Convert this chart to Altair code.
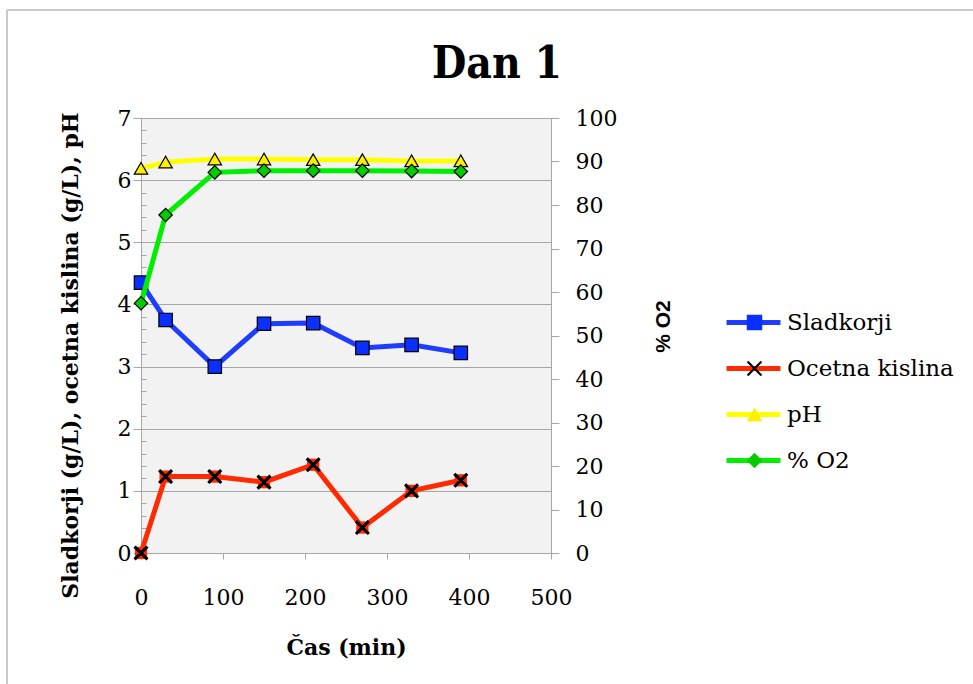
import altair as alt
import pandas as pd

# ---- data ----
cas = [0, 30, 90, 150, 210, 270, 330, 390]
sladkorji = [4.35, 3.75, 3.00, 3.69, 3.70, 3.30, 3.35, 3.22]
ocetna = [0.00, 1.23, 1.23, 1.14, 1.42, 0.41, 1.00, 1.17]
ph = [6.19, 6.29, 6.34, 6.34, 6.33, 6.33, 6.31, 6.31]
o2 = [57.4, 77.7, 87.5, 87.9, 87.9, 87.9, 87.8, 87.7]

serije = ["Sladkorji", "Ocetna kislina", "pH", "% O2"]
x_ticks = [0, 100, 200, 300, 400, 500]
y_left_ticks = [i / 5 for i in range(36)]
y_right_ticks = [0, 10, 20, 30, 40, 50, 60, 70, 80, 90, 100]

# ---- styles ----
barve_crt = ["#1f3dff", "#ff2a00", "#ffff00", "#00ee00"]
barve_tock = ["#0a2fff", "#000000", "#ffee00", "#00cc00"]
X_PATH = ("M-1,-0.8L-0.8,-1L1,0.8L0.8,1Z"
          "M1,-0.8L-0.8,1L-1,0.8L0.8,-1Z")
oblike = ["square", X_PATH, "triangle-up", "diamond"]
SERIF = "DejaVu Serif"
GRAY = "#a6a6a6"

rows = []
for name, vals, side in [("Sladkorji", sladkorji, "L"), ("Ocetna kislina", ocetna, "L"),
                         ("pH", ph, "L"), ("% O2", o2, "D")]:
    for t, v in zip(cas, vals):
        rows.append({"cas": t, "vrednost": v, "serija": name, "oznaka": name, "os": side})
df = pd.DataFrame(rows)
baza = alt.Chart(df)

x_enc = alt.X("cas:Q", scale=alt.Scale(domain=[0, 500], nice=False),
              axis=alt.Axis(values=x_ticks, grid=False, domainColor=GRAY, tickColor=GRAY,
                            tickSize=6, labelFont=SERIF, labelFontSize=22, labelColor="black",
                            labelPadding=28, labelFlush=False, title="Čas (min)",
                            titleFont=SERIF, titleFontWeight="bold", titleFontSize=22,
                            titleColor="black", titleY=94, titleBaseline="middle"))

major_test = "abs(datum.value - round(datum.value)) < 0.001"
y_left = alt.Y("vrednost:Q", scale=alt.Scale(domain=[0, 7], nice=False),
               axis=alt.Axis(values=y_left_ticks, offset=-5, domain=False, labelFlush=False,
                             labelExpr=f"{major_test} ? format(datum.value, 'd') : ''",
                             grid=True, gridColor=GRAY, gridWidth=1,
                             gridOpacity={"condition": {"test": major_test, "value": 1}, "value": 0},
                             tickColor=GRAY,
                             tickSize={"condition": {"test": major_test, "value": 13}, "value": 5},
                             labelFont=SERIF, labelFontSize=22, labelColor="black", labelPadding=2,
                             title="Sladkorji (g/L), ocetna kislina (g/L), pH",
                             titleFont=SERIF, titleFontWeight="bold", titleFontSize=22,
                             titleColor="black", titleX=-76, titleY=237,
                             titleBaseline="middle", titleAngle=270))

y_right = alt.Y("vrednost:Q", scale=alt.Scale(domain=[0, 100], nice=False),
                axis=alt.Axis(orient="right", values=y_right_ticks, grid=False, labelFlush=False,
                              domainColor=GRAY, tickColor=GRAY, tickSize=8,
                              labelFont=SERIF, labelFontSize=22, labelColor="black",
                              labelPadding=16, title="% O2", titleFont="Liberation Sans",
                              titleFontWeight="bold", titleFontSize=21, titleColor="black",
                              titleX=112, titleY=208, titleBaseline="middle", titleAngle=270))

# line legend (stroke channel) - line segments with labels
stroke_enc = alt.Stroke("oznaka:N", sort=serije, scale=alt.Scale(range=barve_crt),
                        legend=alt.Legend(orient="none", legendX=601, legendY=193, title=None,
                                          symbolType="M-4,0H4", symbolSize=182,
                                          symbolStrokeWidth=5, labelFont=SERIF,
                                          labelFontSize=23, labelColor="black", labelOffset=22,
                                          rowPadding=22, labelLimit=400, zindex=1))
# marker legend (color + shape merged) - markers only, labels blank
leg_m = alt.Legend(orient="none", legendX=602, legendY=193, title=None, symbolSize=240,
                   symbolStrokeColor="black", symbolStrokeWidth=1.2, symbolOpacity=1,
                   labelFont=SERIF, labelFontSize=23, labelOpacity=0, labelOffset=8,
                   labelExpr="' '", rowPadding=22, labelLimit=400, zindex=2)
color_enc = alt.Color("serija:N", scale=alt.Scale(domain=serije, range=barve_tock), legend=leg_m)
shape_enc = alt.Shape("serija:N", scale=alt.Scale(domain=serije, range=oblike), legend=leg_m)

levo = baza.transform_filter(alt.datum.os == "L")
desno = baza.transform_filter(alt.datum.os == "D")

crte_l = levo.mark_line(strokeWidth=5).encode(x=x_enc, y=y_left, stroke=stroke_enc)
podlaga_x = levo.transform_filter(alt.datum.serija == "Ocetna kislina").mark_point(
    shape="square", filled=True, size=150, fill="#ff2a00", strokeOpacity=0, opacity=1
).encode(x=x_enc, y=y_left)
tocke_l = levo.mark_point(filled=True, size=180, stroke="black", strokeWidth=1.2,
                          opacity=1).encode(x=x_enc, y=y_left, color=color_enc, shape=shape_enc)
crte_d = desno.mark_line(strokeWidth=5).encode(x=x_enc, y=y_right, stroke=stroke_enc)
tocke_d = desno.mark_point(filled=True, size=180, stroke="black", strokeWidth=1.2,
                           opacity=1).encode(x=x_enc, y=y_right, color=color_enc, shape=shape_enc)

okvir_df = pd.DataFrame({"rob": ["levo", "zgoraj"]})
okvir_l = alt.Chart(okvir_df).transform_filter(alt.datum.rob == "levo").mark_rule(
    color="#c8c8c8", strokeWidth=2
).encode(x=alt.value(-134), y=alt.value(-108), y2=alt.value(566))
okvir_z = alt.Chart(okvir_df).transform_filter(alt.datum.rob == "zgoraj").mark_rule(
    color="#c8c8c8", strokeWidth=2
).encode(x=alt.value(-134), x2=alt.value(832), y=alt.value(-108))

chart = alt.layer(
    alt.layer(crte_l, podlaga_x, tocke_l),
    alt.layer(crte_d, tocke_d),
    okvir_l,
    okvir_z,
).resolve_scale(y="independent").properties(
    width=410, height=435,
    autosize=alt.AutoSizeParams(type="none"),
    padding={"left": 141, "top": 118, "right": 422, "bottom": 131},
    background="white",
    title=alt.Title("Dan 1", font="DejaVu Serif Condensed, DejaVu Serif", fontSize=44,
                    fontWeight="bold", color="black", anchor="middle", frame="group",
                    dx=151, offset=-78),
).configure_view(fill="#f2f2f2", stroke=GRAY)

chart.save("out.html", embed_options={"renderer": "svg", "actions": False})
